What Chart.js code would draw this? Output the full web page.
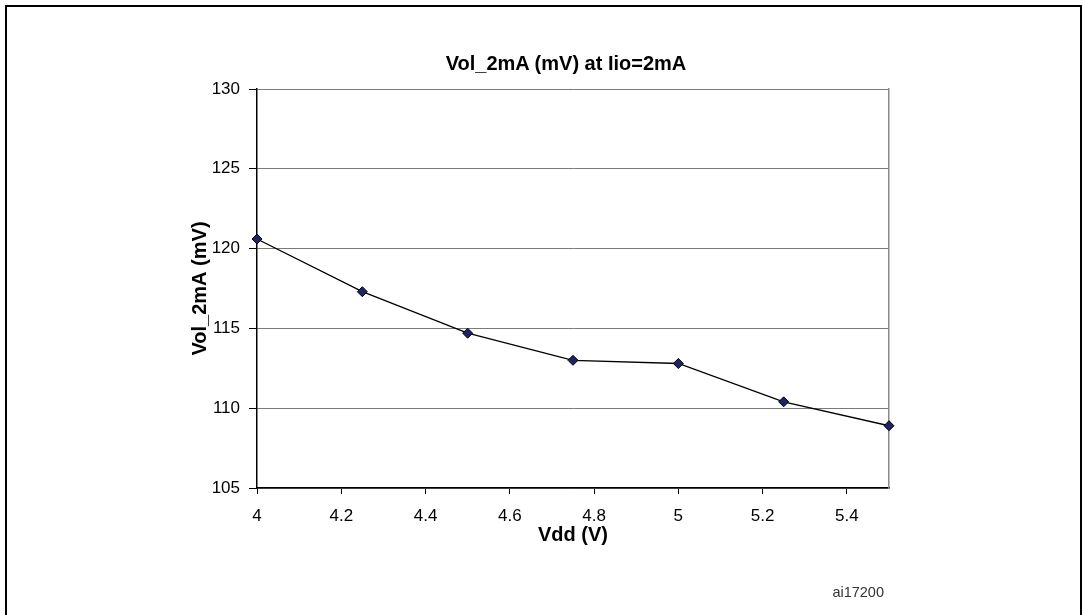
<!DOCTYPE html>
<html>
<head>
<meta charset="utf-8">
<script src="https://cdn.jsdelivr.net/npm/chart.js"></script>
<style>
body { margin: 0; background: #fff; font-family: "Liberation Sans", Arial, sans-serif; }
.frame {
  position: absolute; left: 5px; top: 5px;
  width: 1073px; height: 700px;
  border: 2px solid #000;
}
#chart { position: absolute; left: 0; top: 0; }
.title {
  position: absolute; left: 366px; top: 52px; width: 400px;
  text-align: center; font-weight: bold; font-size: 20px; line-height: 23px;
}
.code {
  position: absolute; left: 784px; top: 584px; width: 100px;
  text-align: right; font-size: 14.5px; line-height: 17px; color: #333;
}
</style>
</head>
<body>
<div class="frame"></div>
<canvas id="chart" width="1083" height="615"></canvas>
<div class="title">Vol_2mA (mV) at Iio=2mA</div>
<div class="code">ai17200</div>

<script>
  const vdd = [4, 4.25, 4.5, 4.75, 5, 5.25, 5.5];
  const vol = [120.6, 117.3, 114.7, 113.0, 112.8, 110.4, 108.9];
  const xTicks = [4, 4.2, 4.4, 4.6, 4.8, 5, 5.2, 5.4];
  const yTicks = [105, 110, 115, 120, 125, 130];

  Chart.defaults.font.family = '"Liberation Sans", Arial, sans-serif';
  Chart.defaults.color = "#000";

  const tickFont = { size: 17 };
  const titleFont = { size: 20, weight: "bold" };

  new Chart(document.getElementById("chart"), {
    type: "line",
    data: {
      datasets: [{
        data: vdd.map((x, i) => ({ x, y: vol[i] })),
        borderColor: "#000",
        borderWidth: 1.3,
        tension: 0,
        pointStyle: "rectRot",
        pointRadius: 5,
        pointBackgroundColor: "#1d2366",
        pointBorderColor: "#000",
        pointBorderWidth: 1,
        clip: false
      }]
    },
    options: {
      responsive: false,
      animation: false,
      layout: { padding: { left: 188, right: 194, top: 89, bottom: 68 } },
      plugins: { legend: { display: false }, tooltip: { enabled: false } },
      scales: {
        x: {
          type: "linear",
          min: 4,
          max: 5.5,
          afterBuildTicks: s => { s.ticks = xTicks.map(v => ({ value: v })); },
          afterFit: s => { s.height = 59; },
          ticks: {
            font: tickFont, padding: 12, maxRotation: 0, autoSkip: false,
            callback: v => String(Math.round(v * 10) / 10)
          },
          grid: { drawOnChartArea: false, tickLength: 6, tickColor: "#000" },
          border: { color: "#000", width: 1.5 },
          title: { display: true, text: "Vdd (V)", font: titleFont, padding: 0 }
        },
        y: {
          min: 105,
          max: 130,
          afterBuildTicks: s => { s.ticks = yTicks.map(v => ({ value: v })); },
          afterFit: s => { s.width = 69; },
          ticks: { font: tickFont, padding: 9 },
          grid: { color: "#7a7a7a", tickLength: 8, tickColor: "#000" },
          border: { color: "#000", width: 1.5 },
          title: { display: true, text: "Vol_2mA (mV)", font: titleFont, padding: 0 }
        },
        y2: {
          position: "right",
          min: 105,
          max: 130,
          afterFit: s => { s.width = 0; },
          ticks: { display: false },
          grid: { display: false },
          border: { color: "#8a8a8a", width: 1.5 }
        }
      }
    }
  });
</script>
</body>
</html>
